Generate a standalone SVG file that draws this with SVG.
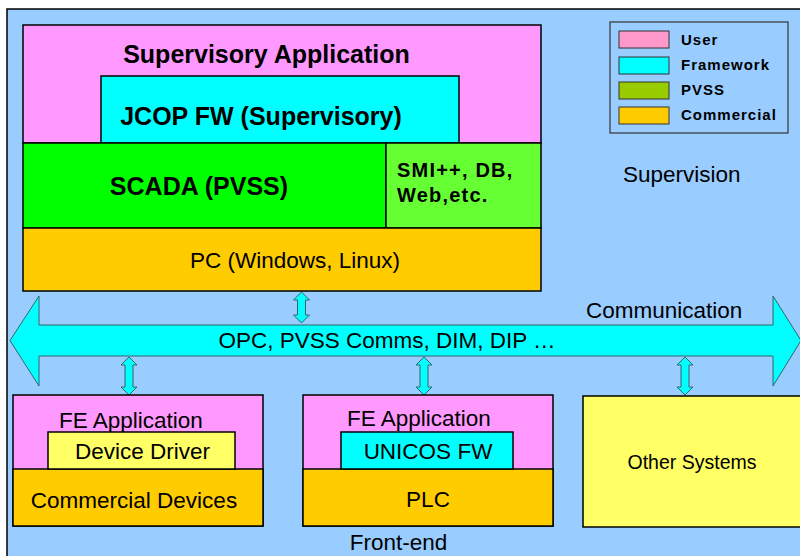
<svg xmlns="http://www.w3.org/2000/svg" width="800" height="556" viewBox="0 0 800 556">
<style>
.b{stroke:#000;stroke-width:1.5}
.t{font-family:"Liberation Sans",Arial,sans-serif;fill:#000}
.bold{font-weight:bold}
.da{fill:#00ffff;stroke:#336666;stroke-width:1}
.lg{font-family:"Liberation Sans",Arial,sans-serif;font-weight:bold;font-size:15px;letter-spacing:1px;fill:#000}
</style>
<defs>
<path id="dbl" d="M0,0 L8,8 L4,8 L4,23 L8,23 L0,31 L-8,23 L-4,23 L-4,8 L-8,8 Z"/>
<path id="dbl2" d="M0,0 L8,8 L4,8 L4,30 L8,30 L0,38 L-8,30 L-4,30 L-4,8 L-8,8 Z"/>
</defs>
<rect x="0" y="0" width="800" height="556" fill="#ffffff"/>
<rect x="7" y="9" width="800" height="560" fill="#99ccff" stroke="#000" stroke-width="1.5"/>

<g id="supervisory">
<rect x="23" y="25" width="518" height="118" fill="#ff99ff" class="b"/>
<text x="266.5" y="63" class="t bold" font-size="25" text-anchor="middle">Supervisory Application</text>
</g>
<g id="jcop">
<rect x="101" y="76" width="358" height="67" fill="#00ffff" class="b"/>
<text x="261" y="125" class="t bold" font-size="25" text-anchor="middle">JCOP FW (Supervisory)</text>
</g>
<g id="scada">
<rect x="23" y="143" width="363" height="85" fill="#00ff00" class="b"/>
<text x="199" y="195" class="t bold" font-size="25" text-anchor="middle">SCADA (PVSS)</text>
</g>
<g id="smi">
<rect x="386" y="143" width="155" height="85" fill="#66ff33" class="b"/>
<text x="397" y="177" class="t bold" font-size="20" letter-spacing="1.2">SMI++, DB,</text>
<text x="397" y="202" class="t bold" font-size="20" letter-spacing="1.2">Web,etc.</text>
</g>
<g id="pc">
<rect x="23" y="228" width="518" height="63" fill="#ffcc00" class="b"/>
<text x="295" y="268" class="t" font-size="22.5" text-anchor="middle">PC (Windows, Linux)</text>
</g>

<g id="legend">
<rect x="610" y="22" width="178" height="111" fill="#99ccff" stroke="#333" stroke-width="1.2"/>
<rect x="619" y="31" width="50" height="17" fill="#ff99cc" stroke="#333" stroke-width="1"/>
<rect x="619" y="57" width="50" height="17" fill="#00ffff" stroke="#333" stroke-width="1"/>
<rect x="619" y="82" width="50" height="17" fill="#99cc00" stroke="#333" stroke-width="1"/>
<rect x="619" y="107" width="50" height="17" fill="#ffcc00" stroke="#333" stroke-width="1"/>
<text x="681" y="45" class="lg">User</text>
<text x="681" y="70" class="lg">Framework</text>
<text x="681" y="95" class="lg">PVSS</text>
<text x="681" y="120" class="lg">Commercial</text>
</g>
<text x="623" y="182" class="t" font-size="22.5">Supervision</text>

<g id="communication">
<path d="M10,340.5 L39,296 L39,325 L773,325 L773,296 L801,340.5 L773,386 L773,356 L39,356 L39,386 Z" fill="#00ffff" stroke="#336666" stroke-width="1"/>
<text x="586" y="318" class="t" font-size="22.5">Communication</text>
<text x="387" y="348" class="t" font-size="22.5" text-anchor="middle">OPC, PVSS Comms, DIM, DIP …</text>
</g>

<g id="connectors">
<use href="#dbl" x="301.5" y="292" class="da"/>
<use href="#dbl2" x="129" y="357" class="da"/>
<use href="#dbl2" x="424" y="357" class="da"/>
<use href="#dbl2" x="685" y="357" class="da"/>
</g>

<g id="fe1">
<rect x="13" y="395" width="250" height="131" fill="#ff99ff" class="b"/>
<rect x="13" y="469" width="250" height="57" fill="#ffcc00" class="b"/>
<text x="59" y="428" class="t" font-size="22.5">FE Application</text>
<rect x="48" y="432" width="187" height="37" fill="#ffff66" class="b"/>
<text x="142.5" y="459" class="t" font-size="22.5" text-anchor="middle">Device Driver</text>
<text x="134" y="508" class="t" font-size="22.5" text-anchor="middle">Commercial Devices</text>
</g>
<g id="fe2">
<rect x="303" y="395" width="250" height="131" fill="#ff99ff" class="b"/>
<rect x="303" y="469" width="250" height="57" fill="#ffcc00" class="b"/>
<text x="347" y="426" class="t" font-size="22.5">FE Application</text>
<rect x="341" y="432" width="172" height="37" fill="#00ffff" class="b"/>
<text x="428" y="459" class="t" font-size="22.5" text-anchor="middle">UNICOS FW</text>
<text x="428" y="507" class="t" font-size="22.5" text-anchor="middle">PLC</text>
</g>
<g id="other">
<rect x="583" y="396" width="230" height="131" fill="#ffff66" class="b"/>
<text x="692" y="469" class="t" font-size="19.5" text-anchor="middle">Other Systems</text>
</g>
<text x="398.5" y="550" class="t" font-size="22.5" text-anchor="middle">Front-end</text>
</svg>
